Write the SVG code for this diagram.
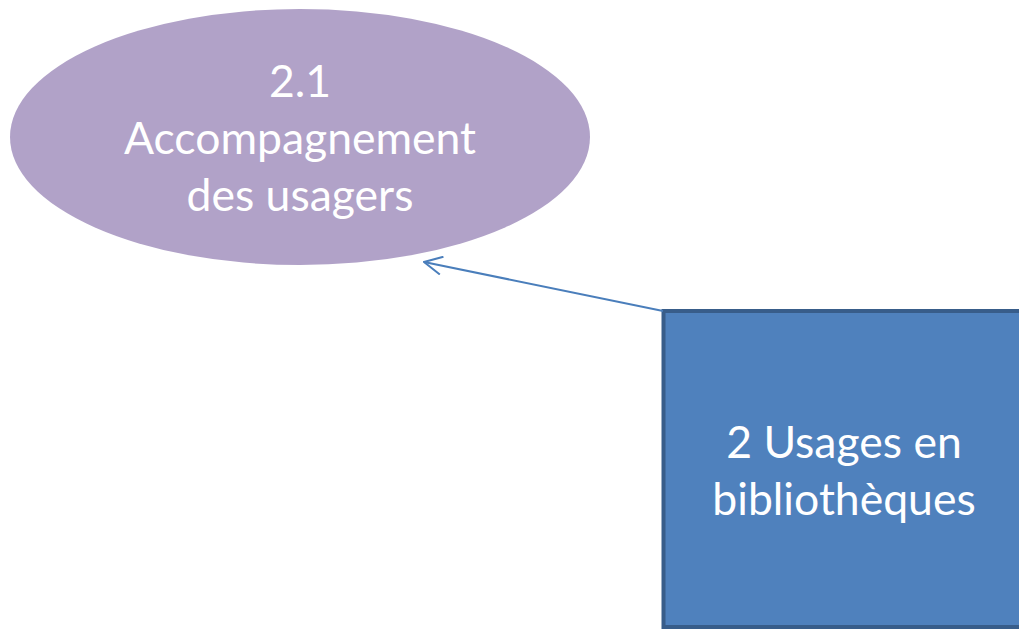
<svg xmlns="http://www.w3.org/2000/svg" width="1019" height="630" viewBox="0 0 1019 630">
<defs>
<style>
.lbl{font-family:Lato,"Open Sans","Liberation Sans",sans-serif;font-size:44.5px;fill:#ffffff;text-anchor:middle}
.conn{stroke:#4a7ebb;stroke-width:2;fill:none}
</style>
<marker id="open" viewBox="0 0 20 20" refX="19" refY="10" markerWidth="20" markerHeight="20" markerUnits="userSpaceOnUse" orient="auto">
<path d="M1,1 L19,10 L1,19" fill="none" stroke="#4a7ebb" stroke-width="2"/>
</marker>
</defs>
<rect width="1019" height="630" fill="#ffffff"/>
<g id="node-2-1">
<ellipse cx="300" cy="137" rx="290" ry="128" fill="#b1a2c8"/>
<text class="lbl" x="300" y="97">2.1</text>
<text class="lbl" x="300" y="154">Accompagnement</text>
<text class="lbl" x="300" y="211">des usagers</text>
</g>
<g id="node-2">
<rect x="663.5" y="311" width="400" height="316" fill="#4f81bd" stroke="#385d8a" stroke-width="4"/>
<text class="lbl" x="844" y="458">2 Usages en</text>
<text class="lbl" x="844" y="515">bibliothèques</text>
</g>
<g id="connectors">
<line class="conn" x1="663" y1="311" x2="424" y2="262" marker-end="url(#open)"/>
</g>
</svg>
